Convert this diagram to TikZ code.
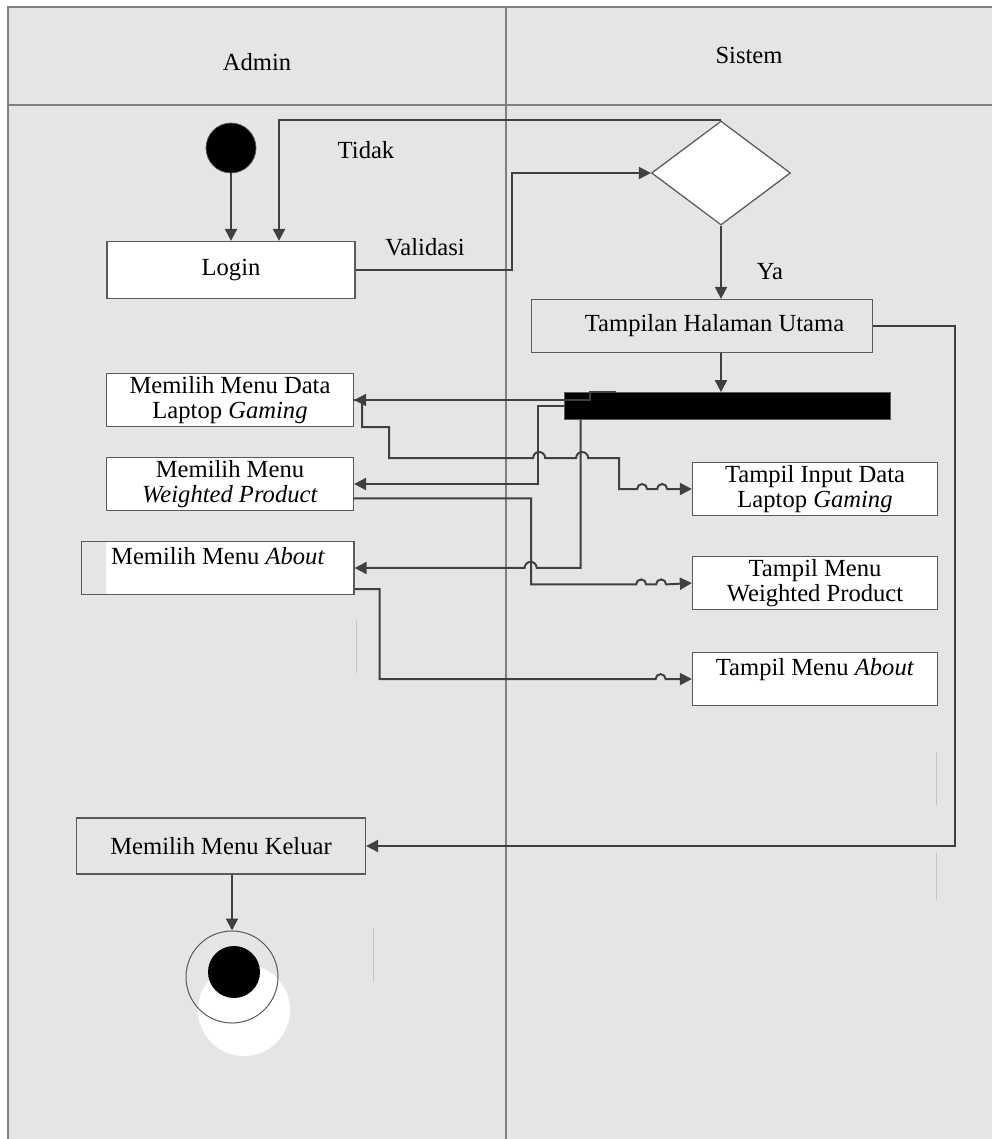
\documentclass[tikz,border=0pt]{standalone}
\usepackage{fontspec}
\setmainfont{Liberation Serif}
\usetikzlibrary{arrows.meta,positioning,calc,shapes.geometric}
\definecolor{lanegray}{HTML}{E5E5E5}
\definecolor{linegray}{HTML}{404040}
\definecolor{edgegray}{HTML}{5A5A5A}
\definecolor{framegray}{HTML}{808080}
\definecolor{ghostgray}{HTML}{C4C4C4}
\tikzset{
  flowarrow/.style={-{Triangle[length=2.4mm,width=2.4mm]}, line width=0.4mm, draw=linegray},
  actbox/.style={draw=edgegray, line width=0.25mm, fill=white, align=center,
    inner sep=2pt, minimum width=49.4mm, minimum height=10.4mm},
  grayact/.style={actbox, fill=lanegray},
  decision/.style={diamond, draw=edgegray, line width=0.25mm, fill=white,
    inner sep=0pt, minimum width=27.8mm, minimum height=20.8mm},
  forkbar/.style={draw=edgegray, fill=black, inner sep=0pt,
    minimum width=65.2mm, minimum height=5.4mm},
  startdot/.style={circle, fill=black, draw=edgegray, inner sep=0pt, minimum size=10mm},
  ghost/.style={draw=ghostgray, line width=0.2mm}
}

\begin{document}
\begin{tikzpicture}[x=0.2mm, y=-0.2mm, every node/.style={font=\fontsize{14}{13.8}\selectfont}]
    \useasboundingbox (0,0) rectangle (992,1139);
    \fill[lanegray] (8,7) rectangle (992,1139);
    \draw[framegray, line width=0.3mm] (8,1139) -- (8,7) -- (992,7);
    \draw[framegray, line width=0.3mm] (8,105) -- (992,105);
    \draw[framegray, line width=0.3mm] (506,7) -- (506,1139);
    \node (admin) at (257,62) {Admin};
    \node (sistem) at (749,55) {Sistem};

    \node[startdot] (start) at (231,148) {};
    \node[actbox, minimum width=49.6mm, minimum height=11.4mm] (login) at (231,270) {Login};
    \node[decision] (check) at (721,173) {};
    \node[grayact, minimum width=68.2mm, minimum height=10.6mm] (home) at (702,326) {\hspace{5mm}Tampilan Halaman Utama};
    \node[forkbar] (fork) at (727,406) {};
    \node[actbox] (selData) at (230,400) {Memilih Menu Data\\Laptop \textit{Gaming}};
    \node[actbox] (selWP) at (230,484) {Memilih Menu\\\textit{Weighted Product}};
    \node[actbox, minimum width=54.4mm, minimum height=10.6mm] (selAbout) at (218,568) {Memilih Menu \textit{About}\\\mbox{}};
    \fill[lanegray] ([shift={(0.7,0.7)}]selAbout.north west) rectangle ([shift={(25,-0.7)}]selAbout.south west);
    \node[grayact, minimum width=57.8mm, minimum height=11.2mm] (selExit) at (221,846) {Memilih Menu Keluar};
    \node[actbox, minimum width=49mm, minimum height=10.2mm] (showData) at (815,489) {Tampil Input Data\\Laptop \textit{Gaming}};
    \node[actbox, minimum width=49mm, minimum height=10.6mm] (showWP) at (815,583) {Tampil Menu\\Weighted Product};
    \node[actbox, minimum width=49mm, minimum height=10.6mm] (showAbout) at (815,679) {Tampil Menu \textit{About}\\\mbox{}};
    \node[circle, fill=white, inner sep=0pt, minimum size=18.4mm] (stopglow) at (244,1010) {};
    \node[circle, draw=edgegray, line width=0.2mm, inner sep=0pt, minimum size=18.4mm] (stop) at (232,977) {};
    \node[circle, fill=black, inner sep=0pt, minimum size=10.4mm] (stopdot) at (234,972) {};

    \node (tidak) at (366,150) {Tidak};
    \node (validasi) at (425,247) {Validasi};
    \node (ya) at (770,272) {Ya};

    \draw[flowarrow] (start) -- (login);
    \draw[flowarrow] (check.north) -| ([xshift=9.6mm]login.north);
    \draw[flowarrow] (login.east) -- ++(156,0) |- (check.west);
    \draw[flowarrow] (check.south) -- (check.south |- home.north);
    \draw[flowarrow] (home.east) -- ++(82,0) |- (selExit.east);
    \draw[flowarrow] (check |- home.south) -- (check |- fork.north);
    \draw[flowarrow] ($(fork.north west)+(52,0)$) -- ++(-26,0) |- (selData.east);
    \draw[flowarrow] (fork.west) -- ++(-26,0) |- (selWP.east);
    \draw[flowarrow] ($(fork.south west)+(17,0)$) -- ++(0,148) -- ++(-44,0) arc (0:-180:6) -- (selAbout.east);
    \draw[flowarrow] (selData.east) -- ++(8,0) -- ++(0,27) -- ++(27,0) -- ++(0,31) -- ++(144,0) arc (180:360:6)
        -- ++(31,0) arc (180:360:6) -- ++(31,0) -- ++(0,31) -- ++(18,0) arc (180:360:5) -- ++(10,0) arc (180:360:5) -- (showData.west);
    \draw[flowarrow] ($(selWP.south east)+(0,-13)$) -- ++(177,0) -- ++(0,86) -- ++(105,0) arc (180:360:5)
        -- ++(10,0) arc (180:360:5) -- (showWP.west);
    \draw[flowarrow] ($(selAbout.south east)+(0,-6)$) -- ++(25,0) -- ++(0,90) -- ++(276,0) arc (180:360:5) -- (showAbout.west);
    \draw[flowarrow] (stop |- selExit.south) -- (stop.north);

    \draw[ghost] (356,620) -- (356,673);
    \draw[ghost] (936,752) -- (936,805);
    \draw[ghost] (936,853) -- (936,900);
    \draw[ghost] (373,928) -- (373,982);
\end{tikzpicture}
\end{document}
